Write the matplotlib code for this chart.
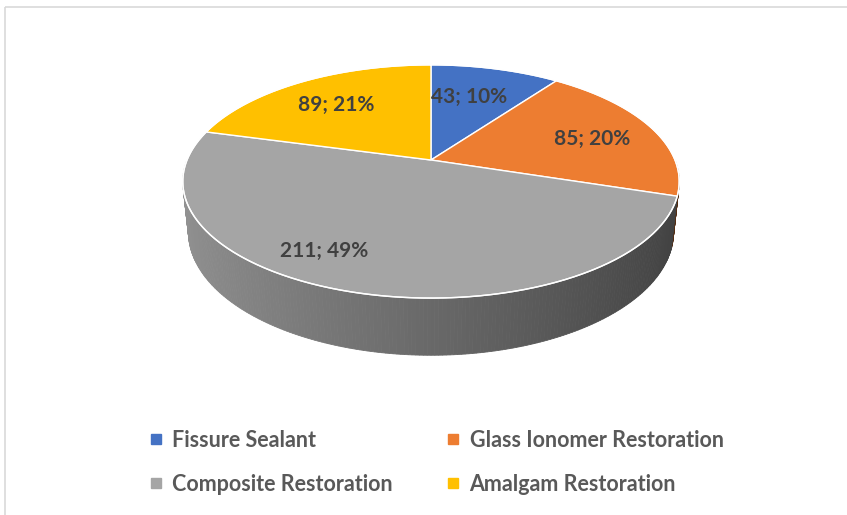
import numpy as np
import matplotlib.pyplot as plt
from matplotlib.patches import Polygon, Rectangle
from matplotlib.lines import Line2D
from matplotlib.colors import to_rgb

# DATA

categories = ["Fissure Sealant", "Glass Ionomer Restoration",
              "Composite Restoration", "Amalgam Restoration"]
counts = [43, 85, 211, 89]
colors = ["#4472C4", "#ED7D31", "#A5A5A5", "#FFC000"]

# label placement inside slices (fraction of radius, angle shift in degrees)
label_r = [0.65, 0.71, 0.80, 0.69]
label_shift = [-2.5, 2.0, 12.0, -1.0]

# 3D VIEW SETTINGS

elev = np.radians(27.5)
dist = 4.82
thick = 0.236
cx, cy, scale = 431, 160, 244


def project(x, y, z=0.0):
    depth = dist + y * np.cos(elev) - z * np.sin(elev)
    u = x * dist / depth
    v = (y * np.sin(elev) + z * np.cos(elev)) * dist / depth
    return cx + u * scale, cy - v * scale


def arc(a0, a1, n=80):
    t = np.radians(np.linspace(a0, a1, n))
    return np.sin(t), np.cos(t)


total = sum(counts)
fracs = np.array(counts) / total
starts = np.concatenate([[0], np.cumsum(fracs)[:-1]]) * 360
ends = np.cumsum(fracs) * 360

fig = plt.figure(figsize=(8.47, 5.15), dpi=100)
ax = fig.add_axes([0, 0, 1, 1])
ax.set_xlim(0, 847)
ax.set_ylim(515, 0)
ax.axis("off")

# chart border
ax.add_patch(Rectangle((5, 7), 850, 520, fill=False, edgecolor="#D9D9D9", lw=1.2))

# SIDE WALL (front part), darker to the right
angles = np.linspace(90, 270, 241)
for a0, a1 in zip(angles[:-1], angles[1:]):
    am = (a0 + a1) / 2
    k = np.searchsorted(ends, am % 360)
    x0, y0 = np.sin(np.radians(a0)), np.cos(np.radians(a0))
    x1, y1 = np.sin(np.radians(a1)), np.cos(np.radians(a1))
    pts = [project(x0, y0, 0), project(x1, y1, 0),
           project(x1, y1, -thick), project(x0, y0, -thick)]
    xm = np.sin(np.radians(am))
    shade = 0.57 - 0.32 * (xm + 1) / 2
    if k == 2:
        col = (shade, shade, shade)
    else:
        col = tuple(np.clip(np.array(to_rgb(colors[k])) * shade * 1.4, 0, 1))
    ax.add_patch(Polygon(pts, closed=True, facecolor=col, edgecolor=col, lw=0.6))

# TOP FACE
ox, oy = project(0.0, 0.0)
for i in range(len(counts)):
    xs, ys = arc(starts[i], ends[i])
    px, py = project(xs, ys)
    poly = np.column_stack([np.concatenate([[ox], px]), np.concatenate([[oy], py])])
    ax.add_patch(Polygon(poly, closed=True, facecolor=colors[i],
                         edgecolor="white", lw=1.0, joinstyle="round"))

# white rim around top face
xs, ys = arc(0, 360, 400)
px, py = project(xs, ys)
ax.plot(px, py, color="white", lw=1.0)

# DATA LABELS
for i in range(len(counts)):
    mid = (starts[i] + ends[i]) / 2 + label_shift[i]
    lx = label_r[i] * np.sin(np.radians(mid))
    ly = label_r[i] * np.cos(np.radians(mid))
    tx, ty = project(lx, ly)
    ax.text(tx, ty, f"{counts[i]}; {round(fracs[i] * 100)}%", ha="center", va="center",
            fontsize=15, fontweight="bold", color="#404040", family="Lato")

# LEGEND (row-wise order like Excel)
order = [0, 2, 1, 3]
handles = [Line2D([], [], marker="s", linestyle="none", markersize=7,
                  markerfacecolor=colors[i], markeredgecolor=colors[i]) for i in order]
leg = fig.legend(handles, [categories[i] for i in order], ncol=2, loc="upper left",
                 bbox_to_anchor=(0.176, 0.166), frameon=False, borderpad=0,
                 prop={"family": "Lato", "weight": "bold", "size": 15.5},
                 handlelength=0.6, handletextpad=0.45, columnspacing=2.54,
                 labelspacing=1.09, borderaxespad=0)
for t in leg.get_texts():
    t.set_color("#595959")

plt.savefig("out.png", dpi=100)
